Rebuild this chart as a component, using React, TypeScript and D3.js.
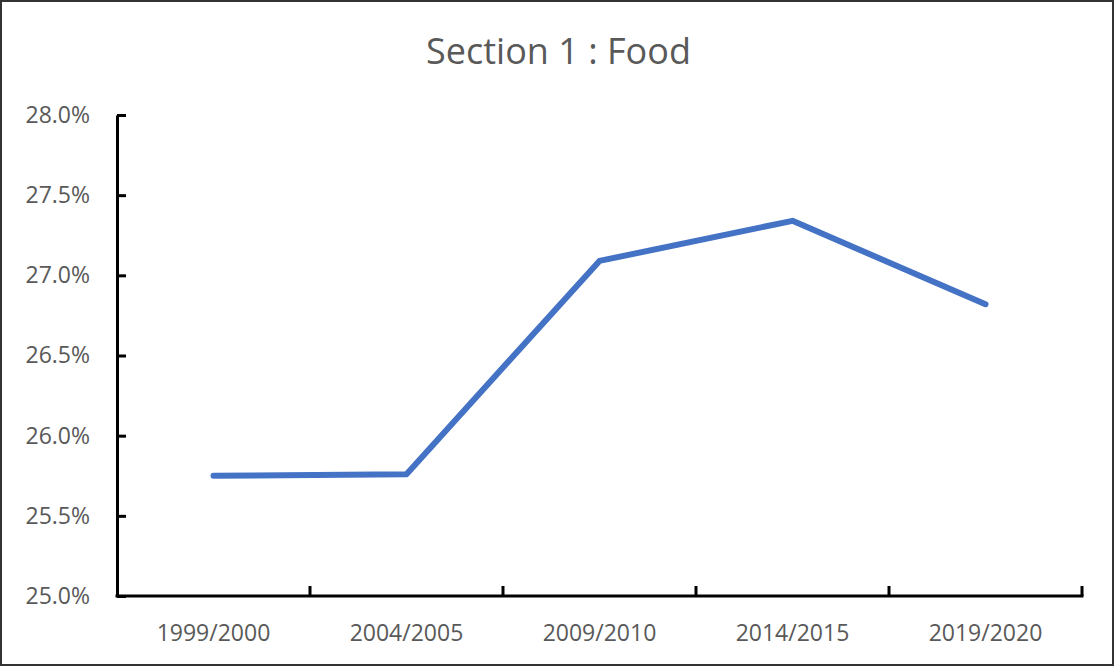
import * as d3 from 'd3';
import React, { useEffect, useRef } from 'react';

const categories = ['1999/2000', '2004/2005', '2009/2010', '2014/2015', '2019/2020'];
const foodShare = [25.75, 25.76, 27.09, 27.34, 26.82];
const yTicks = [25.0, 25.5, 26.0, 26.5, 27.0, 27.5, 28.0];
const title = 'Section 1 : Food';

const width = 1115;
const height = 667;
const margin = { top: 115, right: 33, bottom: 71, left: 117 };
const font = '"Open Sans", "Noto Sans", sans-serif';
const textColor = '#595959';

export default function App() {
  const ref = useRef<SVGSVGElement>(null);

  useEffect(() => {
    const svg = d3.select(ref.current);
    svg.selectAll('*').remove();

    const x = d3.scaleBand<string>()
      .domain(categories)
      .range([margin.left, width - margin.right])
      .padding(0);

    const y = d3.scaleLinear()
      .domain([25, 28])
      .range([height - margin.bottom, margin.top]);

    // frame
    svg.append('rect')
      .attr('x', 1).attr('y', 1)
      .attr('width', width - 3).attr('height', height - 3)
      .attr('fill', '#fff')
      .attr('stroke', '#333')
      .attr('stroke-width', 2);

    svg.append('text')
      .attr('x', width / 2 + 1)
      .attr('y', 64)
      .attr('text-anchor', 'middle')
      .attr('font-family', font)
      .attr('font-size', 36)
      .attr('fill', textColor)
      .text(title);

    // y axis
    const yAxis = d3.axisLeft(y)
      .tickValues(yTicks)
      .tickFormat(d => (d as number).toFixed(1) + '%')
      .tickSizeInner(-9)
      .tickSizeOuter(0)
      .tickPadding(27);

    const gy = svg.append('g')
      .attr('transform', `translate(${margin.left},0)`)
      .call(yAxis);
    gy.select('.domain').attr('stroke', '#000').attr('stroke-width', 3);
    gy.selectAll('.tick line').attr('stroke', '#000').attr('stroke-width', 3);
    gy.selectAll('.tick text')
      .attr('font-family', font)
      .attr('font-size', 23)
      .attr('fill', textColor);

    // x axis (ticks at category boundaries, pointing up)
    const base = y(25);
    const gx = svg.append('g');
    gx.append('line')
      .attr('x1', margin.left - 1.5).attr('x2', width - margin.right + 1.5)
      .attr('y1', base).attr('y2', base)
      .attr('stroke', '#000').attr('stroke-width', 3);

    const bounds = categories.map(c => x(c) as number).concat([x.range()[1]]);
    gx.selectAll('line.tick')
      .data(bounds.slice(1))
      .enter()
      .append('line')
      .attr('class', 'tick')
      .attr('x1', d => d).attr('x2', d => d)
      .attr('y1', base).attr('y2', base - 10)
      .attr('stroke', '#000').attr('stroke-width', 3);

    gx.selectAll('text')
      .data(categories)
      .enter()
      .append('text')
      .attr('x', d => (x(d) as number) + x.bandwidth() / 2)
      .attr('y', 641)
      .attr('text-anchor', 'middle')
      .attr('font-family', font)
      .attr('font-size', 23)
      .attr('fill', textColor)
      .text(d => d);

    // line
    const line = d3.line<number>()
      .x((d, i) => (x(categories[i]) as number) + x.bandwidth() / 2)
      .y(d => y(d));

    svg.append('path')
      .datum(foodShare)
      .attr('d', line)
      .attr('fill', 'none')
      .attr('stroke', '#4472C4')
      .attr('stroke-width', 6)
      .attr('stroke-linecap', 'round')
      .attr('stroke-linejoin', 'round');
  }, []);

  return (
    <div style={{ position: 'absolute', left: 0, top: 0 }}>
      <svg ref={ref} width={width} height={height} style={{ display: 'block' }} />
    </div>
  );
}
